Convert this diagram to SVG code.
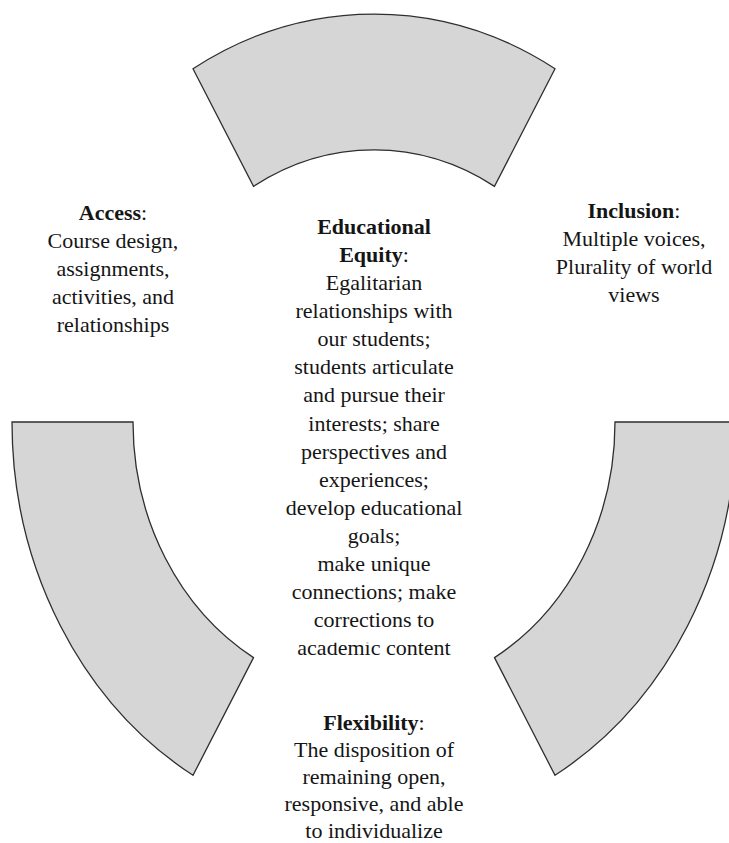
<svg xmlns="http://www.w3.org/2000/svg" width="729" height="843" viewBox="0 0 729 843">
  <style>
    .seg { fill: #d6d6d6; stroke: #2e2e2e; stroke-width: 1.3; stroke-linejoin: miter; }
    .lbl { font-family: "Liberation Serif", "Times New Roman", serif; font-size: 22px; fill: #151515; text-anchor: middle; }
    .hd { font-weight: bold; }
  </style>
  <defs>
    <!-- the last line of the centre label is cut off along its top -->
    <clipPath id="clipLast">
      <rect x="250" y="642.7" width="250" height="30"/>
    </clipPath>
  </defs>

  <rect width="729" height="843" fill="#ffffff"/>

  <!-- ring segments: centre (374,422), outer radii 362/408, inner 241/272 -->
  <g id="seg-top">
    <path class="seg" d="M193,68.7 A362,408 0 0 1 555,68.7 L494.5,186.4 A241,272 0 0 0 253.5,186.4 Z"/>
  </g>
  <g id="seg-left">
    <path class="seg" d="M12,422 L133,422 A241,272 0 0 0 253.5,657.6 L193,775.3 A362,408 0 0 1 12,422 Z"/>
  </g>
  <g id="seg-right">
    <path class="seg" d="M615,422 L736,422 A362,408 0 0 1 555,775.3 L494.5,657.6 A241,272 0 0 0 615,422 Z"/>
  </g>

  <g id="access">
    <text class="lbl" x="113" y="220"><tspan class="hd">Access</tspan>:</text>
    <text class="lbl" x="113" y="248">Course design,</text>
    <text class="lbl" x="113" y="276">assignments,</text>
    <text class="lbl" x="113" y="304">activities, and</text>
    <text class="lbl" x="113" y="332">relationships</text>
  </g>

  <g id="inclusion">
    <text class="lbl" x="634" y="218"><tspan class="hd">Inclusion</tspan>:</text>
    <text class="lbl" x="634" y="246">Multiple voices,</text>
    <text class="lbl" x="634" y="274">Plurality of world</text>
    <text class="lbl" x="634" y="302">views</text>
  </g>

  <g id="equity">
    <text class="lbl hd" x="374" y="234">Educational</text>
    <text class="lbl" x="374" y="262.1"><tspan class="hd">Equity</tspan>:</text>
    <text class="lbl" x="374" y="290.1">Egalitarian</text>
    <text class="lbl" x="374" y="318.2">relationships with</text>
    <text class="lbl" x="374" y="346.3">our students;</text>
    <text class="lbl" x="374" y="374.4">students articulate</text>
    <text class="lbl" x="374" y="402.4">and pursue their</text>
    <text class="lbl" x="374" y="430.5">interests; share</text>
    <text class="lbl" x="374" y="458.6">perspectives and</text>
    <text class="lbl" x="374" y="486.6">experiences;</text>
    <text class="lbl" x="374" y="514.7">develop educational</text>
    <text class="lbl" x="374" y="542.8">goals;</text>
    <text class="lbl" x="374" y="570.8">make unique</text>
    <text class="lbl" x="374" y="598.9">connections; make</text>
    <text class="lbl" x="374" y="627">corrections to</text>
    <text class="lbl" x="374" y="655" clip-path="url(#clipLast)">academic content</text>
  </g>

  <g id="flexibility">
    <text class="lbl" x="374" y="730"><tspan class="hd">Flexibility</tspan>:</text>
    <text class="lbl" x="374" y="757">The disposition of</text>
    <text class="lbl" x="374" y="784">remaining open,</text>
    <text class="lbl" x="374" y="811">responsive, and able</text>
    <text class="lbl" x="374" y="838">to individualize</text>
  </g>
</svg>
